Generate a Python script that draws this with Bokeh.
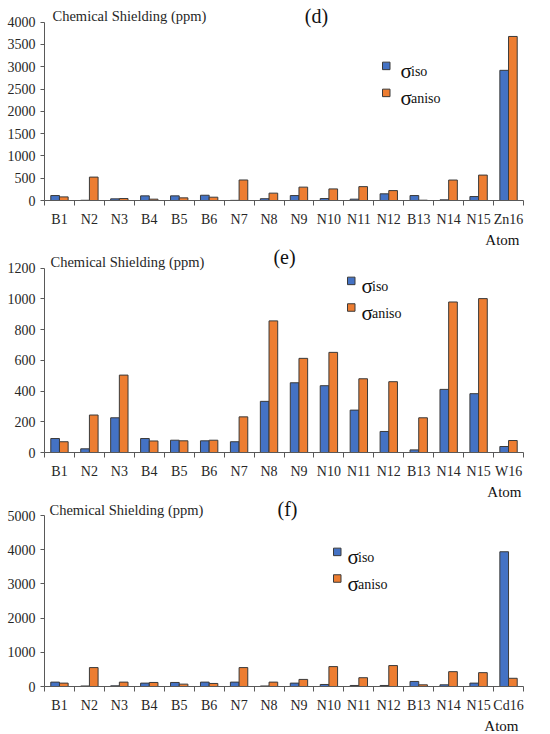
import numpy as np
from bokeh.plotting import figure
from bokeh.models import FixedTicker, Label, BoxAnnotation, Range1d, Title
from bokeh.layouts import column
from bokeh.embed import file_html
from bokeh.resources import INLINE

# ---------------- data ----------------
ATOMS_D = ["B1", "N2", "N3", "B4", "B5", "B6", "N7", "N8", "N9", "N10",
           "N11", "N12", "B13", "N14", "N15", "Zn16"]
ISO_D = [111, 5, 37, 104, 104, 118, 3, 40, 111, 44, 30, 150, 111, 15, 89, 2920]
ANISO_D = [81, 525, 44, 30, 59, 74, 460, 165, 300, 260, 311, 222, 7, 459, 570, 3680]
YTICKS_D = [0, 500, 1000, 1500, 2000, 2500, 3000, 3500, 4000]

ATOMS_E = ["B1", "N2", "N3", "B4", "B5", "B6", "N7", "N8", "N9", "N10",
           "N11", "N12", "B13", "N14", "N15", "W16"]
ISO_E = [91, 24, 226, 91, 80, 76, 70, 333, 454, 435, 276, 137, 17, 411, 383, 39]
ANISO_E = [70, 244, 504, 75, 76, 80, 232, 857, 613, 652, 480, 461, 226, 980, 1002, 78]
YTICKS_E = [0, 200, 400, 600, 800, 1000, 1200]

ATOMS_F = ["B1", "N2", "N3", "B4", "B5", "B6", "N7", "N8", "N9", "N10",
           "N11", "N12", "B13", "N14", "N15", "Cd16"]
ISO_F = [128, 15, 20, 99, 118, 128, 128, 15, 99, 59, 30, 30, 148, 49, 99, 3940]
ANISO_F = [99, 553, 128, 118, 69, 89, 553, 128, 207, 582, 257, 612, 49, 434, 405, 240]
YTICKS_F = [0, 1000, 2000, 3000, 4000, 5000]

LABEL_ISO = "iso"
LABEL_ANISO = "aniso"
YTITLE = "Chemical Shielding (ppm)"
XTITLE = "Atom"

# ---------------- style ----------------
BLUE = "#4472C4"
ORANGE = "#ED7D31"
EDGE = "#3a3a3a"
AXIS = "#595959"
TEXT = "#262626"
SERIF = "Liberation Serif"
BAR_W = 0.29


def panel(atoms, iso, aniso, yticks, tag, g):
    n = len(atoms)
    idx = np.arange(n)
    ymax = yticks[-1]
    frame_h = g["h"] - g["t"] - g["b"]
    pad = g["ytop"] - g["t"]          # pixels of frame kept above the top tick
    y_end = ymax * frame_h / (frame_h - pad)

    p = figure(width=534, height=g["h"],
               x_range=Range1d(-0.5, n - 0.5), y_range=Range1d(0, y_end),
               output_backend="svg", toolbar_location=None,
               min_border_left=g["l"], min_border_right=g["r"],
               min_border_top=g["t"], min_border_bottom=g["b"])
    p.outline_line_color = None
    p.xgrid.visible = False
    p.ygrid.visible = False
    p.background_fill_color = "white"
    p.border_fill_color = "white"

    p.vbar(x=idx - BAR_W / 2, top=iso, width=BAR_W, fill_color=BLUE,
           line_color=EDGE, line_width=1)
    p.vbar(x=idx + BAR_W / 2, top=aniso, width=BAR_W, fill_color=ORANGE,
           line_color=EDGE, line_width=1)

    xa = p.xaxis[0]
    xa.ticker = FixedTicker(ticks=list(range(n)),
                            minor_ticks=[i - 0.5 for i in range(n + 1)])
    xa.major_label_overrides = {i: a for i, a in enumerate(atoms)}
    xa.major_tick_in = 0
    xa.major_tick_out = 0
    xa.minor_tick_in = 0
    xa.minor_tick_out = 5
    xa.minor_tick_line_color = AXIS
    xa.axis_line_color = AXIS
    xa.major_label_standoff = 6
    xa.major_label_text_font = SERIF
    xa.major_label_text_font_size = "14px"
    xa.major_label_text_color = TEXT

    ya = p.yaxis[0]
    ya.ticker = FixedTicker(ticks=yticks, minor_ticks=[])
    ya.bounds = (0, ymax)
    ya.major_tick_in = 0
    ya.major_tick_out = 4
    ya.major_tick_line_color = AXIS
    ya.axis_line_color = AXIS
    ya.major_label_standoff = 5
    ya.major_label_text_font = SERIF
    ya.major_label_text_font_size = "14px"
    ya.major_label_text_color = TEXT

    p.add_layout(Label(x=g["chem_x"], y=ymax, x_units="screen", y_units="data",
                       y_offset=g["chem_dy"], text=YTITLE, text_align="left",
                       text_baseline="middle", text_font=SERIF,
                       text_font_size="14.5px", text_color=TEXT))
    p.add_layout(Label(x=g["tag_x"], y=ymax, x_units="screen", y_units="data",
                       y_offset=g["tag_dy"], text=tag, text_align="center",
                       text_baseline="middle", text_font=SERIF,
                       text_font_size="20px", text_color="#111111"))
    p.add_layout(Title(text=XTITLE, align="right", offset=g["atom_dx"],
                       standoff=0, text_font=SERIF,
                       text_font_size="15px", text_font_style="normal",
                       text_color="#111111"), "below")

    # legend
    lx, cy, dy = g["leg_x"], g["leg_y"], g["leg_dy"]
    for k, (col, sub) in enumerate([(BLUE, LABEL_ISO), (ORANGE, LABEL_ANISO)]):
        c = cy - k * dy
        p.add_layout(BoxAnnotation(left=lx, right=lx + 7.5, bottom=c - 3.75, top=c + 3.75,
                                   left_units="screen", right_units="screen",
                                   bottom_units="screen", top_units="screen",
                                   fill_color=col, fill_alpha=1.0,
                                   line_color=EDGE, line_alpha=1.0, line_width=1))
        sx = lx + 8 + g["leg_gap"]
        p.add_layout(Label(x=sx, y=c - 5, x_units="screen", y_units="screen",
                           text="σ", text_align="left", text_baseline="alphabetic",
                           text_font=SERIF, text_font_size="21px", text_color="#111111"))
        p.add_layout(Label(x=sx + 10.5, y=c - 6, x_units="screen", y_units="screen",
                           text=sub, text_align="left", text_baseline="alphabetic",
                           text_font=SERIF, text_font_size="14px", text_color="#111111"))
    return p


G_D = dict(h=247, l=37, r=4, t=0, b=47, ytop=21.7, chem_x=8, chem_dy=6.7,
           tag_x=272, tag_dy=6.7, atom_dx=4,
           leg_x=338, leg_y=134.6, leg_dy=27, leg_gap=10)
G_E = dict(h=252, l=44, r=11, t=0, b=47, ytop=20.7, chem_x=6, chem_dy=6,
           tag_x=240, tag_dy=11.5, atom_dx=2,
           leg_x=303, leg_y=171.6, leg_dy=26.6, leg_gap=6)
G_F = dict(h=234, l=43, r=10, t=0, b=47, ytop=16, chem_x=5, chem_dy=5.3,
           tag_x=243, tag_dy=6.5, atom_dx=5,
           leg_x=289, leg_y=134.6, leg_dy=26.6, leg_gap=6)

p1 = panel(ATOMS_D, ISO_D, ANISO_D, YTICKS_D, "(d)", G_D)
p2 = panel(ATOMS_E, ISO_E, ANISO_E, YTICKS_E, "(e)", G_E)
p3 = panel(ATOMS_F, ISO_F, ANISO_F, YTICKS_F, "(f)", G_F)

layout = column(p1, p2, p3, spacing=0)
open("out.html", "w").write(file_html(layout, INLINE))
